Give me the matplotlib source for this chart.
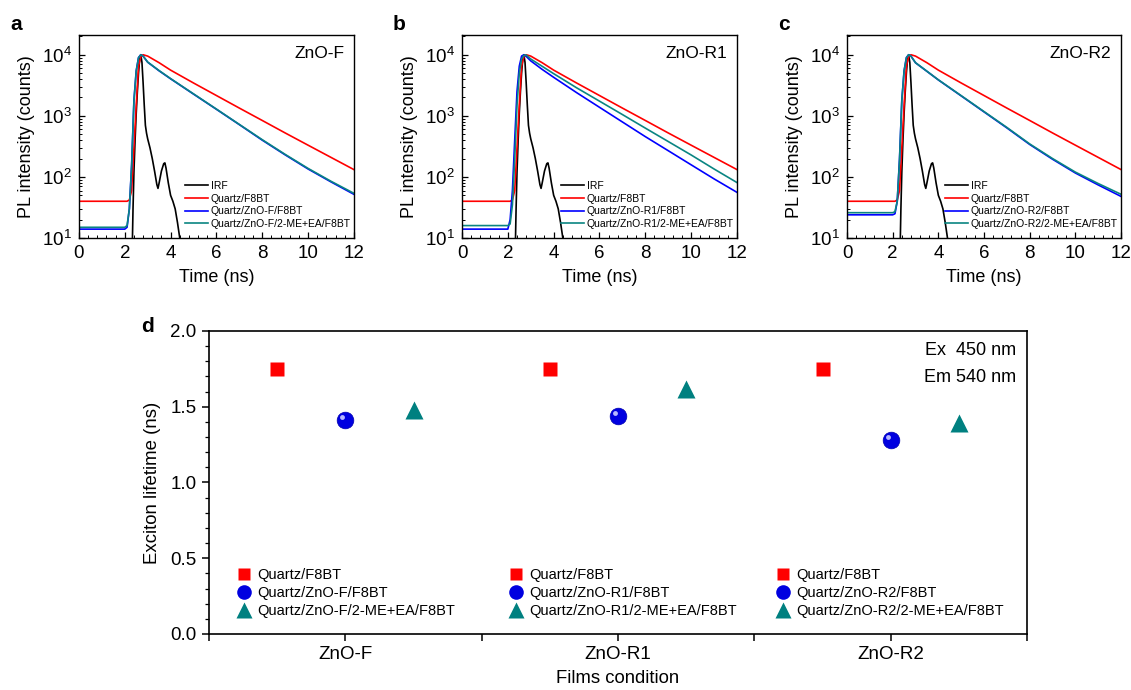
import matplotlib
matplotlib.use("Agg")
import matplotlib.pyplot as plt
from matplotlib.ticker import MultipleLocator, AutoMinorLocator, LogLocator, LogFormatterMathtext, NullFormatter
from matplotlib.transforms import ScaledTranslation

plt.rcParams['font.family'] = ['Liberation Sans', 'DejaVu Sans']
plt.rcParams['mathtext.fontset'] = 'custom'
plt.rcParams['mathtext.rm'] = 'Liberation Sans'

# time grid for the PL decays (ns)
t_pl = [0, 0.5, 1.0, 1.5, 2.0, 2.1, 2.2, 2.3, 2.4, 2.5, 2.6, 2.7, 2.8, 3.0, 3.5, 4, 5, 6, 7, 8, 9, 10, 11, 12]

# instrument response function
t_irf = [2.33, 2.36, 2.40, 2.45, 2.50, 2.55, 2.60, 2.65, 2.70, 2.75, 2.80, 2.85, 2.90, 2.95, 3.00, 3.10,
         3.20, 3.30, 3.40, 3.45, 3.50, 3.60, 3.70, 3.75, 3.80, 3.90, 4.00, 4.10, 4.20, 4.30, 4.40, 4.45]
irf = [8, 30, 120, 400, 1100, 2500, 5000, 8500, 10000, 7500, 3500, 1500, 700, 520, 420, 300,
       200, 125, 75, 65, 80, 125, 165, 170, 140, 80, 50, 40, 30, 18, 10, 6]

# Quartz/F8BT (same reference film in every panel)
f8bt = [40, 40, 40, 40, 40, 40, 42, 60, 300, 1500, 6500, 9300, 10000, 9500, 7400, 5600,
        3450, 2150, 1340, 840, 525, 331, 209, 132]

# panel a: ZnO-F
zno_f = [14, 14, 14, 14, 14, 15, 30, 160, 1800, 5500, 9000, 10000, 9500, 7550, 5450, 4040,
         2270, 1280, 718, 400, 230, 135, 83, 52]
zno_f_me = [15, 15, 15, 15, 15, 16, 30, 150, 1700, 5400, 8900, 10000, 9500, 7590, 5500, 4070,
            2290, 1290, 724, 407, 234, 138, 85, 54]

# panel b: ZnO-R1
zno_r1 = [14, 14, 14, 14, 14, 20, 60, 400, 2500, 6500, 9500, 10000, 9400, 7940, 5750, 4270,
          2400, 1380, 794, 457, 269, 158, 93, 56]
zno_r1_me = [16, 16, 16, 16, 16, 17, 35, 200, 1500, 5000, 8500, 9800, 9900, 8510, 6460, 4900,
             2880, 1740, 1050, 630, 380, 229, 135, 81]

# panel c: ZnO-R2
zno_r2 = [24, 24, 24, 24, 24, 25, 40, 200, 1800, 5500, 9000, 10000, 9500, 7380, 5350, 3870,
          2120, 1160, 635, 340, 195, 116, 74, 48]
zno_r2_me = [26, 26, 26, 26, 26, 27, 40, 190, 1750, 5400, 8900, 10000, 9500, 7410, 5370, 3890,
             2140, 1175, 646, 347, 200, 120, 78, 52]

panels = [
    ('a', 'ZnO-F', zno_f, zno_f_me),
    ('b', 'ZnO-R1', zno_r1, zno_r1_me),
    ('c', 'ZnO-R2', zno_r2, zno_r2_me),
]

# panel d: exciton lifetimes (ns)
films = ['ZnO-F', 'ZnO-R1', 'ZnO-R2']
tau_f8bt = [1.75, 1.75, 1.75]
tau_zno = [1.41, 1.44, 1.28]
tau_zno_me = [1.48, 1.62, 1.39]

RED = '#ff0000'
BLUE = '#0000ff'
TEAL = '#0a8582'

fig = plt.figure(figsize=(11.31, 6.9), dpi=100)

lefts = [0.0698, 0.4085, 0.7489]
widths = [0.2431, 0.2431, 0.2423]
for i, (letter, name, blue_y, teal_y) in enumerate(panels):
    ax = fig.add_axes([lefts[i], 0.655, widths[i], 0.2942])
    ax.plot(t_irf, irf, color='black', lw=1.2, label='IRF')
    ax.plot(t_pl, f8bt, color=RED, lw=1.2, label='Quartz/F8BT')
    ax.plot(t_pl, blue_y, color=BLUE, lw=1.2, label=f'Quartz/{name}/F8BT')
    ax.plot(t_pl, teal_y, color=TEAL, lw=1.2, label=f'Quartz/{name}/2-ME+EA/F8BT')
    ax.set_yscale('log')
    ax.set_xlim(0, 12)
    ax.set_ylim(10, 2.1e4)
    ax.xaxis.set_major_locator(MultipleLocator(2))
    ax.xaxis.set_minor_locator(AutoMinorLocator(5))
    ax.yaxis.set_major_locator(LogLocator(base=10, numticks=10))
    ax.yaxis.set_minor_locator(LogLocator(base=10, subs=range(2, 10), numticks=10))
    ax.yaxis.set_major_formatter(LogFormatterMathtext())
    ax.yaxis.set_minor_formatter(NullFormatter())
    ax.tick_params(which='both', direction='in', labelsize=13.5)
    ax.tick_params(which='major', length=4, width=0.9, pad=5)
    ax.tick_params(which='minor', length=2, width=0.7)
    for sp in ax.spines.values():
        sp.set_linewidth(1.0)
    ax.set_xlabel('Time (ns)', fontsize=13, labelpad=5)
    ax.set_ylabel('PL intensity (counts)', fontsize=13, labelpad=5)
    ax.text(0.965, 0.91, name, transform=ax.transAxes, ha='right', va='center', fontsize=12.5)
    ax.legend(loc='lower right', bbox_to_anchor=(1.0, 0.03), frameon=False, fontsize=7.5,
              handlelength=2.2, handletextpad=0.3, labelspacing=0.25, borderpad=0, borderaxespad=0.3)
    fig.text(lefts[i] - 0.061, 0.965, letter, fontsize=15, weight='bold', va='center')

# panel d
axd = fig.add_axes([0.1848, 0.0812, 0.7233, 0.4391])
pos = [1, 2, 3]
x_sq = [p - 0.25 for p in pos]
x_tr = [p + 0.25 for p in pos]
axd.plot(x_sq, tau_f8bt, 's', color=RED, ms=10, mec='none', ls='none')
axd.plot(pos, tau_zno, 'o', color='#0000e0', ms=12, mec='#0000b0', mew=0.5, ls='none')
off = ScaledTranslation(-2.2 / 72, 2.2 / 72, fig.dpi_scale_trans)
axd.plot(pos, tau_zno, 'o', color='#b8b8ff', ms=3.5, mec='none', ls='none', transform=axd.transData + off)
axd.plot(x_tr, tau_zno_me, '^', color='#008080', ms=13, mec='none', ls='none')

axd.set_xlim(0.5, 3.5)
axd.set_ylim(0, 2.0)
axd.set_xticks(pos)
axd.set_xticklabels(films)
axd.set_xticks([0.5, 1.5, 2.5, 3.5], minor=True)
axd.yaxis.set_major_locator(MultipleLocator(0.5))
axd.yaxis.set_minor_locator(MultipleLocator(0.1))
axd.yaxis.set_major_formatter(matplotlib.ticker.FormatStrFormatter('%.1f'))
axd.tick_params(which='both', direction='out', labelsize=13.5, top=False, right=False)
axd.tick_params(axis='x', which='both', length=5, width=1.1, pad=4)
axd.tick_params(axis='y', which='major', length=5, width=1.1, pad=4)
axd.tick_params(axis='y', which='minor', length=3, width=0.9)
for sp in axd.spines.values():
    sp.set_linewidth(1.2)
axd.set_xlabel('Films condition', fontsize=13.3, labelpad=5)
axd.set_ylabel('Exciton lifetime (ns)', fontsize=13.4, labelpad=7)
axd.text(0.987, 0.934, 'Ex  450 nm', transform=axd.transAxes, ha='right', va='center', fontsize=13)
axd.text(0.987, 0.848, 'Em 540 nm', transform=axd.transAxes, ha='right', va='center', fontsize=13)

leg_x = [0.034, 0.366, 0.693]
for i, name in enumerate(films):
    h1, = axd.plot([], [], 's', color=RED, ms=9, mec='none')
    h2, = axd.plot([], [], 'o', color='#0000e0', ms=10.5, mec='none')
    h3, = axd.plot([], [], '^', color='#008080', ms=12, mec='none')
    leg = axd.legend([h1, h2, h3],
                     ['Quartz/F8BT', f'Quartz/{name}/F8BT', f'Quartz/{name}/2-ME+EA/F8BT'],
                     loc='upper left', bbox_to_anchor=(leg_x[i], 0.218), frameon=False,
                     fontsize=10.5, handlelength=1.0, handletextpad=0.4, labelspacing=0.27,
                     borderpad=0, borderaxespad=0)
    if i < len(films) - 1:
        axd.add_artist(leg)

fig.text(147 / 1131, 1 - 327 / 690, 'd', fontsize=15, weight='bold', va='center', ha='center')

fig.savefig('out.png', dpi=100)
